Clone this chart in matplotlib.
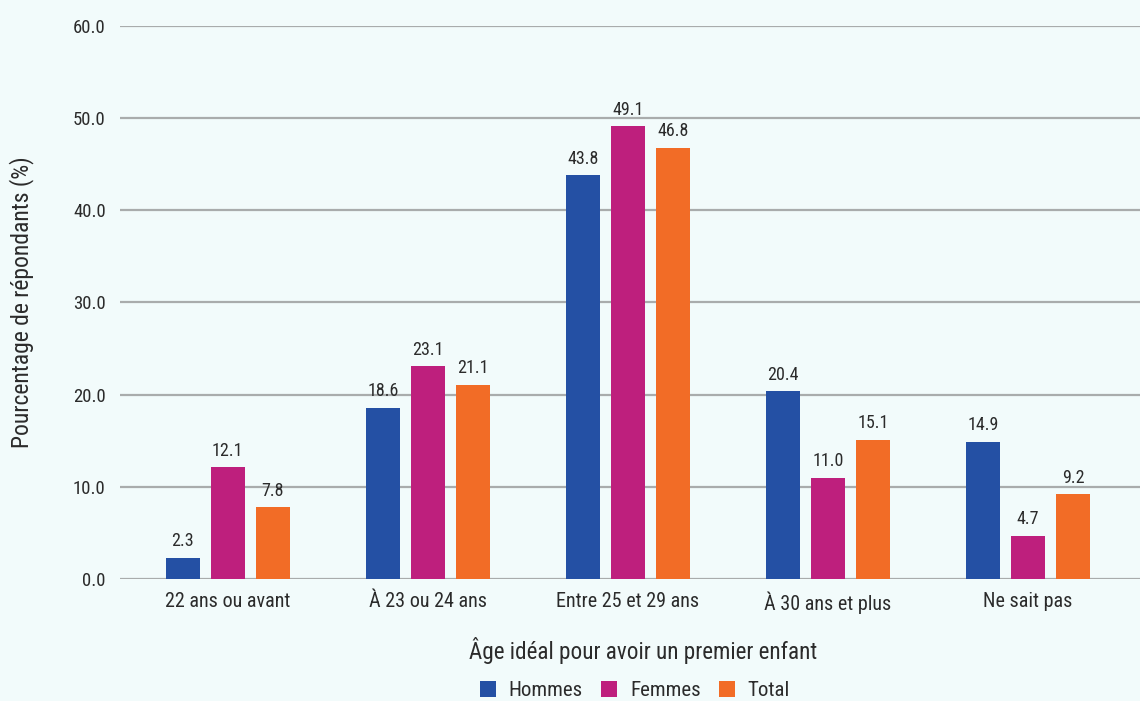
import matplotlib
matplotlib.use("Agg")
import matplotlib.pyplot as plt
import numpy as np
from matplotlib.patches import Patch

categories = ["22 ans ou avant", "À 23 ou 24 ans", "Entre 25 et 29 ans", "À 30 ans et plus", "Ne sait pas"]
hommes = [2.3, 18.6, 43.8, 20.4, 14.9]
femmes = [12.1, 23.1, 49.1, 11.0, 4.7]
total = [7.8, 21.1, 46.8, 15.1, 9.2]
series_names = ["Hommes", "Femmes", "Total"]
colors = ["#2450a4", "#be1f7d", "#f26c26"]
yticks = [0, 10, 20, 30, 40, 50, 60]

plt.rcParams['font.family'] = ['Roboto Condensed', 'Roboto', 'DejaVu Sans']
bg = "#f2fbfb"
txt = "#2b2b2b"

fig = plt.figure(figsize=(11.4, 7.01), dpi=100, facecolor=bg)
ax = fig.add_axes([0.105, 0.174, 0.895, 0.789], facecolor=bg)

x = np.arange(len(categories))
w = 0.17
off = 0.225
for i, (vals, c) in enumerate(zip([hommes, femmes, total], colors)):
    pos = x + (i - 1) * off
    bars = ax.bar(pos, vals, width=w, color=c, zorder=3)
    for b, v in zip(bars, vals):
        ax.text(b.get_x() + b.get_width() / 2, v + 0.8, f"{v:.1f}", ha="center", va="bottom",
                fontsize=13, color=txt)

ax.set_xlim(-0.54, 4.56)
ax.set_ylim(0, 60)
ax.set_yticks(yticks)
ax.set_yticklabels([f"{t:.1f}" for t in yticks], fontsize=13.5, color=txt)
ax.yaxis.grid(True, color="#a9acac", linewidth=1.6, zorder=0)
ax.set_axisbelow(True)
ax.tick_params(axis="y", length=0, pad=10)
ax.tick_params(axis="x", length=0, pad=9)
ax.set_xticks(x)
ax.set_xticklabels(categories, fontsize=14.5, color=txt)
for s in ax.spines.values():
    s.set_visible(False)

ax.set_ylabel("Pourcentage de répondants (%)", fontsize=17, color=txt)
ax.yaxis.set_label_coords(-0.084, 0.5)
fig.text(0.564, 0.072, "Âge idéal pour avoir un premier enfant", ha="center", va="center",
         fontsize=16.7, color=txt)

handles = [Patch(facecolor=c, label=n) for c, n in zip(colors, series_names)]
fig.legend(handles=handles, loc="center", bbox_to_anchor=(0.557, 0.015), ncol=3, frameon=False,
           fontsize=15, handlelength=0.77, handleheight=0.77, handletextpad=0.6, columnspacing=0.9,
           labelcolor=txt)

fig.savefig("out.png", dpi=100, facecolor=bg)
